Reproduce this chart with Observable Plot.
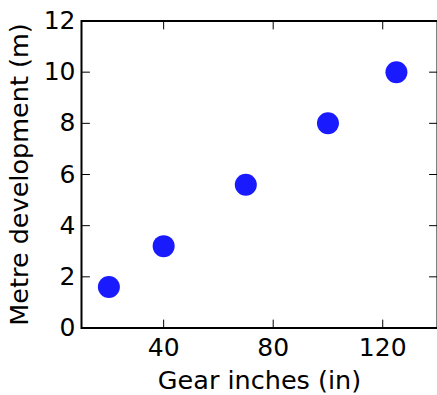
<!DOCTYPE html>
<html>
<head>
<meta charset="utf-8">
<script src="https://cdn.jsdelivr.net/npm/d3@7"></script>
<script src="https://cdn.jsdelivr.net/npm/@observablehq/plot@0.6"></script>
<style>
  html, body { margin: 0; padding: 0; background: #fff; }
  #chart svg { display: block; }
</style>
</head>
<body>
<div id="chart"></div>
<script>
const gearInches = [20, 40, 70, 100, 125];
const metreDevelopment = [1.6, 3.2, 5.6, 8, 10];
const xTicks = [40, 80, 120];
const yTicks = [0, 2, 4, 6, 8, 10, 12];
const xLabel = "Gear inches (in)";
const yLabel = "Metre development (m)";

const data = gearInches.map((g, i) => ({x: g, y: metreDevelopment[i]}));

const tickShape = {
  draw(context, l) {
    context.moveTo(0, 0);
    context.lineTo(0, -l);
  }
};

const font = "DejaVu Sans";
const chart = Plot.plot({
  width: 437,
  height: 395,
  marginLeft: 81,
  marginTop: 20.5,
  marginBottom: 67.5,
  marginRight: 0,
  style: {fontFamily: font, fontSize: "25px", background: "#fff", color: "#000"},
  x: {domain: [10, 140]},
  y: {domain: [0, 12]},
  marks: [
    Plot.axisX(xTicks, {anchor: "bottom", tickSize: 0, tickPadding: 10, label: null, fontSize: 25}),
    Plot.axisY(yTicks, {anchor: "left", tickSize: 0, tickPadding: 6, label: null, fontSize: 25}),
    // inward ticks
    Plot.vector(xTicks, {x: d => d, frameAnchor: "bottom", length: 8, anchor: "start", rotate: 0, shape: tickShape, stroke: "#000", strokeWidth: 1}),
    Plot.vector(xTicks, {x: d => d, frameAnchor: "top", length: 8, anchor: "start", rotate: 180, shape: tickShape, stroke: "#000", strokeWidth: 1}),
    Plot.vector(yTicks, {y: d => d, frameAnchor: "left", length: 8, anchor: "start", rotate: 90, shape: tickShape, stroke: "#000", strokeWidth: 1}),
    Plot.vector(yTicks, {y: d => d, frameAnchor: "right", length: 8, anchor: "start", rotate: -90, shape: tickShape, stroke: "#000", strokeWidth: 1}),
    Plot.dot(data, {x: "x", y: "y", r: 11, fill: "#1a1aff", stroke: "none"}),
    Plot.frame({stroke: "#000", strokeWidth: 2}),
    Plot.text([xLabel], {text: d => d, frameAnchor: "bottom", dy: 53, fontSize: 25.5, fill: "#000", textAnchor: "middle", lineAnchor: "middle"}),
    Plot.text([yLabel], {text: d => d, frameAnchor: "left", dx: -62, rotate: -90, fontSize: 25.5, fill: "#000", textAnchor: "middle", lineAnchor: "middle"})
  ]
});
document.getElementById("chart").appendChild(chart);
</script>
</body>
</html>
